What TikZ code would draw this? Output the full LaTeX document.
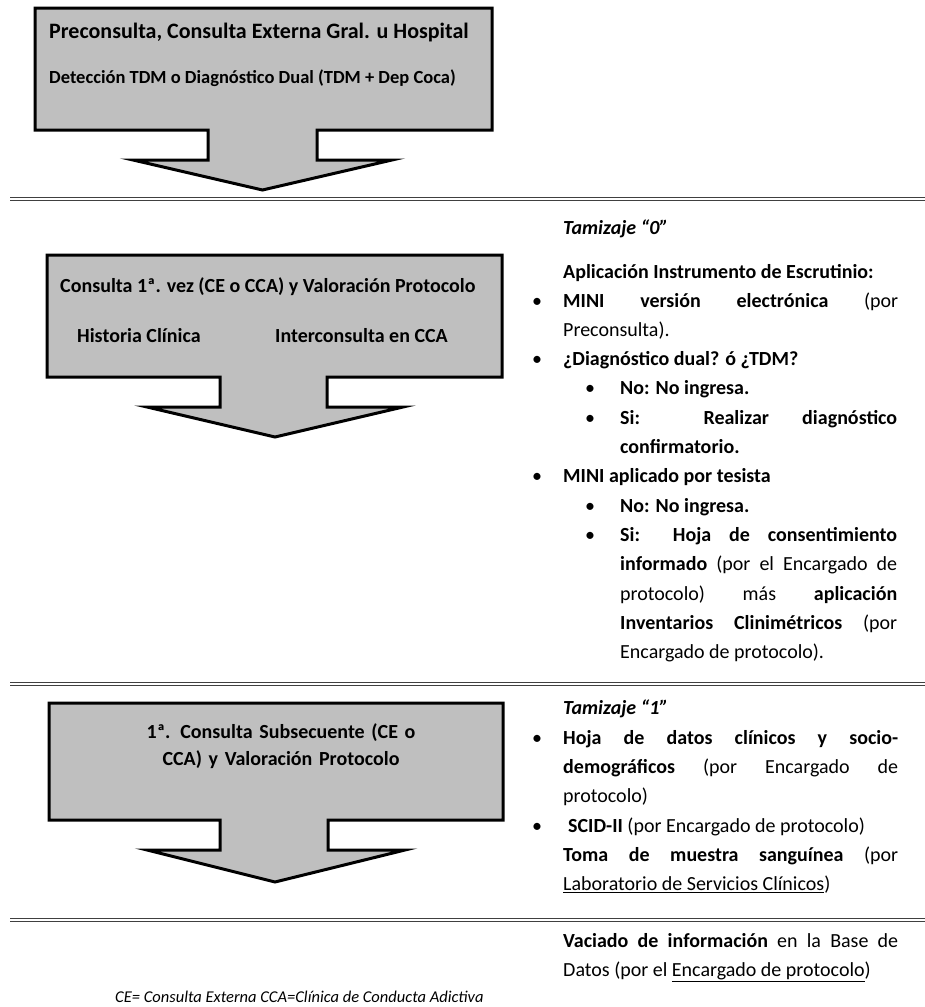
\documentclass[tikz,border=0pt]{standalone}
\usepackage{fontspec}
\setmainfont{Carlito}
\usetikzlibrary{positioning}
\tikzset{bigarrow/.style={draw=black, line width=3pt, fill=black!25, line join=miter},
  sepline/.style={draw=black!75, double=white, double distance=2pt, line width=1.4pt},
  boxtxt/.style={inner sep=0pt, anchor=base west, font=\bfseries\fontsize{20}{24}\selectfont},
  coltxt/.style={inner sep=0pt, anchor=base west, text width=335pt, align=justify, font=\fontsize{20}{29.3}\selectfont},
  subtxt/.style={coltxt, text width=277pt},
  bul/.style={inner sep=0pt, anchor=base, font=\fontsize{20}{29.3}\selectfont}}
\hyphenpenalty=10000
\tolerance=10000
\begin{document}
\begin{tikzpicture}[x=1pt,y=-1pt]
  \useasboundingbox (0,0) rectangle (925,1007);
  % flechas
  \draw[bigarrow] (35,8) -- (492,8) -- (492,130) -- (317,130) -- (317,160) -- (392,160) -- (262.5,190)
    -- (133,160) -- (208,160) -- (208,130) -- (35,130) -- cycle;
  \draw[bigarrow] (47,255) -- (502,255) -- (502,377) -- (327,377) -- (327,407) -- (403,407) -- (275,437)
    -- (147,407) -- (220,407) -- (220,377) -- (47,377) -- cycle;
  \draw[bigarrow] (49,703) -- (503,703) -- (503,820) -- (328,820) -- (328,850) -- (405,850) -- (275,882)
    -- (147,850) -- (220,850) -- (220,820) -- (49,820) -- cycle;
  \node[boxtxt, font=\bfseries\fontsize{22}{26}\selectfont] (pre) at (49,38) {Preconsulta, Consulta Externa Gral. u Hospital};
  \node[boxtxt, font=\bfseries\fontsize{18.5}{22}\selectfont] (det) at (49,83) {Detección TDM o Diagnóstico Dual (TDM + Dep Coca)};
  \node[boxtxt] (cons) at (60,292) {Consulta 1ª. vez (CE o CCA) y Valoración Protocolo};
  \node[boxtxt] (hist) at (77,342) {Historia Clínica};
  \node[boxtxt] (inter) at (275,342) {Interconsulta en CCA};
  \node[boxtxt, anchor=base, text width=300pt, align=center, font=\bfseries\fontsize{20}{27}\selectfont] (subs) at (281,738)
    {1ª. Consulta Subsecuente (CE o\\ CCA) y Valoración Protocolo};
  % separadores
  \coordinate (s1a) at (10,199); \coordinate (s1b) at (925,199);
  \coordinate (s2a) at (10,684); \coordinate (s2b) at (925,684);
  \coordinate (s3a) at (10,920); \coordinate (s3b) at (925,920);
  \draw[sepline] (s1a) -- (s1b);
  \draw[sepline] (s2a) -- (s2b);
  \draw[sepline] (s3a) -- (s3b);
  % tamizaje 0
  \node[coltxt, font=\bfseries\itshape\fontsize{20}{29.3}\selectfont] (tam0) at (563,234) {Tamizaje “0”};
  \node[coltxt] (apl) at (563,278) {\textbf{Aplicación Instrumento de Escrutinio:}};
  \node[bul] (b1) at (537,307) {•};
  \node[coltxt] (mini) at (563,307) {\textbf{MINI versión electrónica} (por\linebreak Preconsulta).};
  \node[bul] (b2) at (537,365.6) {•};
  \node[coltxt] (dual) at (563,365.6) {\textbf{¿Diagnóstico dual? ó ¿TDM?}};
  \node[bul] (b21) at (590,394.9) {•};
  \node[subtxt] (no1) at (620,394.9) {\textbf{No: No ingresa.}};
  \node[bul] (b22) at (590,424.2) {•};
  \node[subtxt] (si1) at (620,424.2) {\textbf{Si: Realizar diagnóstico\linebreak confirmatorio.}};
  \node[bul] (b3) at (537,482.8) {•};
  \node[coltxt] (mini2) at (563,482.8) {\textbf{MINI aplicado por tesista}};
  \node[bul] (b31) at (590,512.1) {•};
  \node[subtxt] (no2) at (620,512.1) {\textbf{No: No ingresa.}};
  \node[bul] (b32) at (590,541.4) {•};
  \node[subtxt] (si2) at (620,541.4) {\textbf{Si: Hoja de consentimiento\linebreak informado} (por el Encargado de\linebreak
    protocolo) más \textbf{aplicación\linebreak Inventarios Clinimétricos} (por\linebreak Encargado de protocolo).};
  % tamizaje 1
  \node[coltxt, font=\bfseries\itshape\fontsize{20}{29.3}\selectfont] (tam1) at (563,714) {Tamizaje “1”};
  \node[bul] (b4) at (537,744) {•};
  \node[coltxt] (hoja) at (563,744) {\textbf{Hoja de datos clínicos y socio-\linebreak demográficos} (por Encargado de\linebreak protocolo)};
  \node[bul] (b5) at (537,832) {•};
  \node[coltxt] (scid) at (568,832) {\textbf{SCID-II} (por Encargado de protocolo)};
  \node[coltxt] (toma) at (563,861.3) {\textbf{Toma de muestra sanguínea} (por\linebreak \underline{Laboratorio de Servicios Clínicos})};
  % base de datos
  \node[coltxt] (vac) at (563,947) {\textbf{Vaciado de información} en la Base de\linebreak Datos (por el \underline{Encargado de protocolo})};
  \node[inner sep=0pt, anchor=base west, font=\itshape\fontsize{16.5}{19}\selectfont] (nota) at (115,1002)
    {CE= Consulta Externa CCA=Clínica de Conducta Adictiva};
\end{tikzpicture}
\end{document}
